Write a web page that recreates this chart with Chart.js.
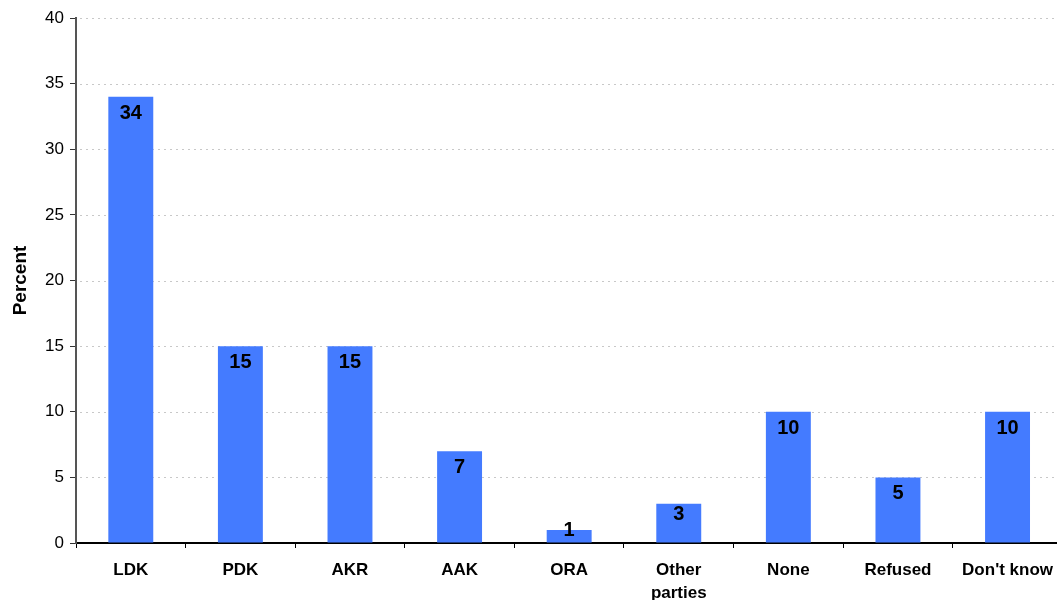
<!DOCTYPE html>
<html>
<head>
<meta charset="utf-8">
<script src="https://cdn.jsdelivr.net/npm/chart.js@4"></script>
<style>
html,body{margin:0;padding:0;overflow:hidden;background:#fff;}
#wrap{width:1064px;height:600px;position:relative;}
</style>
</head>
<body>
<div id="wrap"><canvas id="c"></canvas></div>
<script>
const categories = ["LDK", "PDK", "AKR", "AAK", "ORA", ["Other", "parties"], "None", "Refused", "Don't know"];
const percentValues = [34, 15, 15, 7, 1, 3, 10, 5, 10];
const yTicks = [0, 5, 10, 15, 20, 25, 30, 35, 40];

const FONT = "'Liberation Sans', Arial, sans-serif";

const dottedGrid = {
  id: 'dottedGrid',
  beforeDatasetsDraw(chart) {
    const y = chart.scales.y, a = chart.chartArea, ctx = chart.ctx;
    ctx.save();
    ctx.strokeStyle = '#c8c8c8';
    ctx.lineWidth = 1;
    ctx.setLineDash([2, 4]);
    yTicks.forEach(v => {
      if (v === 0) return;
      const py = Math.round(y.getPixelForValue(v)) + 0.5;
      ctx.beginPath();
      ctx.moveTo(a.left + 4, py);
      ctx.lineTo(a.right, py);
      ctx.stroke();
    });
    ctx.restore();
  }
};

const barLabels = {
  id: 'barLabels',
  afterDatasetsDraw(chart) {
    const ctx = chart.ctx;
    const meta = chart.getDatasetMeta(0);
    ctx.save();
    ctx.fillStyle = '#000';
    ctx.font = "bold 20px " + FONT;
    ctx.textAlign = 'center';
    ctx.textBaseline = 'middle';
    meta.data.forEach((bar, i) => {
      const h = bar.base - bar.y;
      let off = 15.5;
      if (h < 45) off = Math.max(0, (h - 13) * 10 / 26);
      ctx.fillText(String(percentValues[i]), bar.x, bar.y + off + 1);
    });
    ctx.restore();
  }
};

new Chart(document.getElementById('c'), {
  type: 'bar',
  data: {
    labels: categories,
    datasets: [{
      data: percentValues,
      backgroundColor: '#447BFF',
      borderWidth: 0,
      barPercentage: 0.41,
      categoryPercentage: 1.0
    }]
  },
  options: {
    responsive: true,
    maintainAspectRatio: false,
    animation: false,
    layout: { padding: { top: 18, right: 0, bottom: 0, left: 0 } },
    plugins: { legend: { display: false }, tooltip: { enabled: false } },
    scales: {
      x: {
        afterFit(s) { s.height = 57; },
        grid: {
          display: true,
          drawOnChartArea: false,
          drawTicks: true,
          tickLength: 5,
          offset: true,
          color: '#000',
          tickColor: '#000'
        },
        border: { display: true, color: '#000', width: 2 },
        ticks: {
          color: '#000',
          font: { family: FONT, size: 17, weight: 'bold', lineHeight: 1.35 },
          padding: 11,
          maxRotation: 0,
          autoSkip: false
        }
      },
      y: {
        min: 0,
        max: 40,
        afterFit(s) { s.width = 76; },
        afterBuildTicks(s) { s.ticks = yTicks.map(v => ({ value: v })); },
        grid: {
          display: true,
          drawOnChartArea: false,
          drawTicks: true,
          tickLength: 6,
          color: '#333',
          tickColor: '#333'
        },
        border: { display: true, color: '#555', width: 2 },
        ticks: {
          color: '#000',
          font: { family: FONT, size: 17 },
          padding: 6
        },
        title: {
          display: true,
          text: 'Percent',
          color: '#000',
          font: { family: FONT, size: 19, weight: 'bold' },
          padding: { top: 9, bottom: 0 }
        }
      }
    }
  },
  plugins: [dottedGrid, barLabels]
});
</script>
</body>
</html>
